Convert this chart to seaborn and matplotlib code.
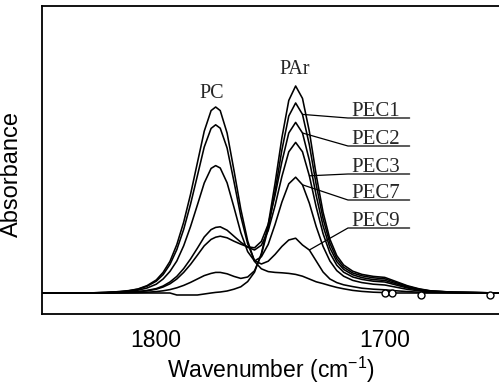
import matplotlib
matplotlib.use('Agg')
import matplotlib.pyplot as plt
import pandas as pd
import seaborn as sns

# FTIR carbonyl region, absorbance (arbitrary units)
wavenumber = [1850, 1840, 1830, 1822, 1816, 1812, 1808, 1804, 1800, 1797,
              1794, 1791, 1788, 1785, 1782, 1779, 1776, 1774, 1772, 1769,
              1766, 1763, 1760, 1757, 1754, 1751, 1748, 1745, 1742, 1739,
              1736, 1733, 1730, 1727, 1724, 1721, 1718, 1714, 1710, 1705,
              1700, 1695, 1690, 1685, 1680, 1670, 1660, 1650]

pc = [0, 0, 0, 0.003, 0.007, 0.012, 0.020, 0.037, 0.065, 0.103,
      0.158, 0.242, 0.354, 0.493, 0.651, 0.809, 0.912, 0.930, 0.912, 0.800,
      0.614, 0.419, 0.261, 0.158, 0.121, 0.107, 0.103, 0.101, 0.098, 0.093,
      0.084, 0.070, 0.056, 0.047, 0.037, 0.028, 0.021, 0.013, 0.008, 0.004,
      0.002, 0, 0, 0, 0, 0, 0, 0]
pec9 = [0, 0, 0, 0.003, 0.007, 0.011, 0.019, 0.034, 0.059, 0.092,
        0.143, 0.217, 0.318, 0.444, 0.586, 0.730, 0.823, 0.841, 0.824, 0.725,
        0.558, 0.384, 0.246, 0.162, 0.145, 0.159, 0.193, 0.233, 0.265, 0.274,
        0.240, 0.215, 0.160, 0.105, 0.070, 0.052, 0.041, 0.032, 0.024, 0.019,
        0.016, 0.011, 0.007, 0.004, 0.002, 0.001, 0, 0]
pec7 = [0, 0, 0, 0.002, 0.005, 0.008, 0.014, 0.025, 0.044, 0.070,
        0.108, 0.160, 0.236, 0.332, 0.440, 0.550, 0.623, 0.637, 0.625, 0.551,
        0.429, 0.302, 0.207, 0.160, 0.181, 0.243, 0.343, 0.455, 0.546, 0.579,
        0.541, 0.449, 0.332, 0.233, 0.160, 0.112, 0.084, 0.063, 0.052, 0.044,
        0.040, 0.029, 0.018, 0.011, 0.005, 0.002, 0.001, 0]
pec3 = [0, 0, 0, 0.001, 0.003, 0.004, 0.007, 0.013, 0.022, 0.035,
        0.055, 0.083, 0.122, 0.170, 0.224, 0.280, 0.317, 0.328, 0.331, 0.314,
        0.284, 0.254, 0.229, 0.215, 0.239, 0.312, 0.437, 0.583, 0.706, 0.753,
        0.706, 0.586, 0.430, 0.297, 0.200, 0.139, 0.104, 0.080, 0.068, 0.059,
        0.055, 0.040, 0.025, 0.015, 0.007, 0.003, 0.002, 0]
pec2 = [0, 0, 0, 0.001, 0.002, 0.004, 0.006, 0.011, 0.019, 0.030,
        0.046, 0.070, 0.103, 0.143, 0.189, 0.236, 0.268, 0.279, 0.284, 0.276,
        0.259, 0.244, 0.231, 0.226, 0.258, 0.344, 0.489, 0.657, 0.800, 0.853,
        0.800, 0.664, 0.487, 0.336, 0.226, 0.157, 0.118, 0.091, 0.077, 0.067,
        0.063, 0.046, 0.029, 0.017, 0.009, 0.004, 0.002, 0]
pec1 = [0, 0, 0, 0, 0.001, 0.001, 0.002, 0.004, 0.007, 0.011,
        0.017, 0.026, 0.038, 0.053, 0.070, 0.087, 0.098, 0.103, 0.103, 0.096,
        0.083, 0.073, 0.080, 0.111, 0.192, 0.322, 0.509, 0.716, 0.885, 0.950,
        0.893, 0.741, 0.542, 0.372, 0.249, 0.172, 0.129, 0.100, 0.086, 0.076,
        0.071, 0.052, 0.033, 0.019, 0.010, 0.004, 0.002, 0]
par = [0, 0, 0, 0, 0, 0, 0, 0, 0, 0,
       0, -0.010, -0.010, -0.010, -0.010, -0.005, 0, 0.003, 0.005, 0.010,
       0.019, 0.031, 0.057, 0.104, 0.197, 0.342, 0.549, 0.777, 0.963, 1.035,
       0.973, 0.808, 0.590, 0.404, 0.269, 0.187, 0.140, 0.109, 0.093, 0.083,
       0.078, 0.057, 0.036, 0.021, 0.011, 0.004, 0.002, 0]

# little open markers sitting on the baseline at the right
marker_wn = [1700, 1697, 1684, 1654]
marker_abs = [0.0, 0.0, -0.008, -0.008]

samples = {'PC': pc, 'PEC9': pec9, 'PEC7': pec7, 'PEC3': pec3,
           'PEC2': pec2, 'PEC1': pec1, 'PAr': par}

# labelled blends and the wavenumber where each leader line touches its curve
pec_labels = ['PEC1', 'PEC2', 'PEC3', 'PEC7', 'PEC9']
pec_anchor = [1736, 1736, 1733, 1736, 1733]

df = pd.concat([pd.DataFrame({'wavenumber': wavenumber, 'absorbance': v, 'sample': k})
                for k, v in samples.items()], ignore_index=True)

sns.set_theme(style='white')
plt.rcParams['font.family'] = ['Liberation Sans', 'DejaVu Sans']
plt.rcParams['mathtext.default'] = 'regular'
plt.rcParams['axes.unicode_minus'] = False

fig = plt.figure(figsize=(4.99, 3.85), dpi=100)
ax = fig.add_axes([42 / 499, 1 - 314 / 385, 457 / 499, 308 / 385])

sns.lineplot(data=df, x='wavenumber', y='absorbance', units='sample',
             estimator=None, color='black', lw=1.15, sort=False, legend=False, ax=ax)
ax.plot(marker_wn, marker_abs, ls='none', marker='o', ms=5, mfc='white',
        mec='black', mew=1.0)

serif = ['Liberation Serif', 'DejaVu Serif']
ax.text(1775.7, 1.0, 'PC', family=serif, fontsize=14.5, ha='center', va='center')
ax.text(1739.6, 1.115, 'PAr', family=serif, fontsize=14.5, ha='center', va='center')

label_y = [0.875, 0.735, 0.595, 0.465, 0.325]
for name, anchor, ly in zip(pec_labels, pec_anchor, label_y):
    v = samples[name][wavenumber.index(anchor)]
    ax.plot([anchor, 1716.1, 1689.1], [v, ly, ly], color='black', lw=0.9)
    ax.text(1714.5, ly + 0.01, name, family=serif, fontsize=15,
            ha='left', va='baseline')

ax.set_xlim(1850, 1650)
ax.set_ylim(-0.105, 1.435)
ax.set_xticks([1800, 1700])
ax.set_yticks([])
ax.tick_params(axis='x', direction='in', length=6, width=1, pad=11,
               labelsize=16.5, colors='black')
ax.set_xlabel('Wavenumber (cm$^{-1}$)', fontsize=16.5, labelpad=1.5, color='black')
ax.set_ylabel('Absorbance', fontsize=17, color='black')
ax.yaxis.set_label_coords(-0.0416, 0.4545)

for side in ['left', 'bottom', 'top']:
    ax.spines[side].set_color('black')
    ax.spines[side].set_linewidth(1.3)
ax.spines['right'].set_visible(False)

fig.savefig('out.png', dpi=100)
